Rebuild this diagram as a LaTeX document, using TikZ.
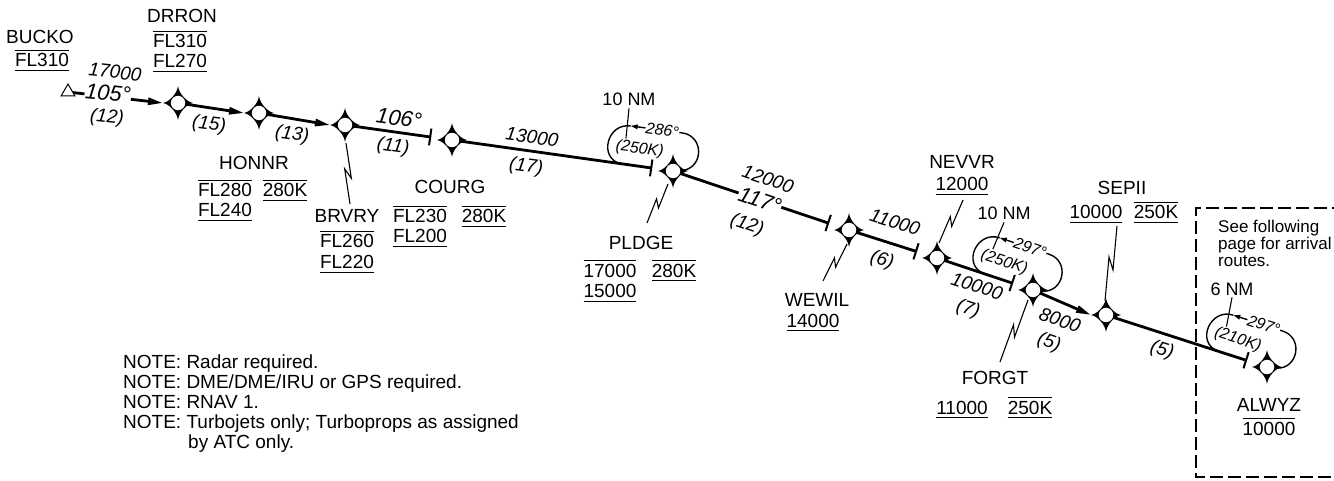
\documentclass[tikz,border=0pt]{standalone}
\usepackage{fontspec}
\setmainfont{Liberation Sans}
\usetikzlibrary{calc,arrows.meta,shapes.geometric}
\newcommand\OvL[1]{\vbox{\hrule height 1.3pt\kern 2.4pt\hbox{#1}}}
\newcommand\UnL[1]{\vtop{\hbox{#1}\kern 2.8pt\hrule height 1.3pt}}
\newcommand\OuL[1]{\vtop{\vbox{\hrule height 1.3pt\kern 2.4pt\hbox{#1}}\kern 2.8pt\hrule height 1.3pt}}
\newcommand\zigz[2]{\draw[leader] (#1) -- ($(#1)!0.58!(#2)!3pt!90:(#2)$) -- ($(#1)!0.42!(#2)!3pt!-90:(#2)$) -- (#2);}
\newcommand\tickat[2]{\draw[tickm] ($(#1)!8.5pt!90:(#2)$) -- ($(#1)!8.5pt!-90:(#2)$);}
\newcommand\holdp[5]{%
  \begin{scope}[shift={(#1)}, rotate=#2]
    \draw[holdl] (10,-2) .. controls (30,-8) and (26,-39) .. (4,-39);
    \draw[holdl,-{Triangle[length=7pt,width=4.5pt]}] (4,-39) -- (-48,-39);
    \draw[holdl] (-48,-39) .. controls (-72,-39) and (-76,-2) .. (-52,0);
    \coordinate (#5) at (-51,-26);
    \node[hl, fill=white, rotate=#2] at (-16,-39) {#3};
    \node[hl, rotate=#2] at (-36,-17) {#4};
  \end{scope}}
\begin{document}
\begin{tikzpicture}[x=1pt,y=-1pt,
  route/.style={line width=2.8pt},
  arr/.style={-{Triangle[length=15pt,width=7pt]}},
  tickm/.style={line width=2pt},
  holdl/.style={line width=1.4pt},
  leader/.style={line width=1.1pt},
  lbl/.style={font=\fontsize{19}{21}\selectfont, inner sep=0pt, anchor=base},
  rl/.style={font=\fontsize{19}{21}\selectfont\itshape, inner sep=0pt},
  hdg/.style={font=\fontsize{22}{24}\selectfont\itshape, inner sep=0.5pt},
  hl/.style={font=\fontsize{16}{18}\selectfont\itshape, inner sep=0.5pt},
  nm/.style={font=\fontsize{18}{20}\selectfont, inner sep=0pt, anchor=base},
  note/.style={font=\fontsize{19}{21}\selectfont, inner sep=0pt, anchor=base west},
  boxt/.style={font=\fontsize{17}{19}\selectfont, inner sep=0pt, anchor=base west},
  dbox/.style={line width=1.1pt, dash pattern=on 13pt off 5pt},
  wpstar/.pic={\fill (0,-17) .. controls (1,-9) and (9,-1) .. (15,0) .. controls (9,1) and (1,9) .. (0,17) .. controls (-1,9) and (-9,1) .. (-15,0) .. controls (-9,-1) and (-1,-9) .. (0,-17) -- cycle; \fill[white] (0,0) circle[radius=7.2];}
]
\useasboundingbox (0,0) rectangle (1334,481);
% fixes
\coordinate (bucko) at (68,92);
\coordinate (drron) at (178,103);
\coordinate (honnr) at (259,113);
\coordinate (brvry) at (345,125);
\coordinate (courg) at (452,140);
\coordinate (pldge) at (673,171);
\coordinate (wewil) at (849,230);
\coordinate (nevvr) at (937,258);
\coordinate (forgt) at (1033,290);
\coordinate (sepii) at (1106,315);
\coordinate (alwyz) at (1267,367);
% dashed box
\draw[dbox] (1345,208) -- (1196,208) -- (1196,477) -- (1345,477);
% holds
\holdp{pldge}{-7.7}{286°}{(250K)}{ldp}
\holdp{forgt}{-18.4}{297°}{(250K)}{ldf}
\holdp{alwyz}{-17.9}{297°}{(210K)}{lda}
% route
\draw[route,arr] (bucko) -- ($(drron)+(-15,0)$);
\draw[route,arr] (drron) -- ($(honnr)+(-15,0)$);
\draw[route,arr] (honnr) -- ($(brvry)+(-15,0)$);
\coordinate (t1) at ($(courg)!22pt!(brvry)$);
\draw[route] (brvry) -- (t1); \tickat{t1}{courg}
\coordinate (t2) at ($(pldge)!22pt!(courg)$);
\draw[route] (courg) -- (t2); \tickat{t2}{pldge}
\coordinate (t3) at ($(wewil)!22pt!(pldge)$);
\draw[route] (pldge) -- (t3); \tickat{t3}{wewil}
\coordinate (t4) at ($(nevvr)!22pt!(wewil)$);
\draw[route] (wewil) -- (t4); \tickat{t4}{nevvr}
\coordinate (t5) at ($(forgt)!22pt!(nevvr)$);
\draw[route] (nevvr) -- (t5); \tickat{t5}{forgt}
\draw[route,arr] (forgt) -- ($(sepii)+(-15,0)$);
\coordinate (t6) at ($(alwyz)!22pt!(sepii)$);
\draw[route] (sepii) -- (t6); \tickat{t6}{alwyz}
% leaders
\coordinate (la1) at (346,143); \coordinate (lb1) at (350,204);
\coordinate (la2) at (668,184); \coordinate (lb2) at (647,223);
\coordinate (la3) at (847,244); \coordinate (lb3) at (823,281);
\coordinate (la4) at (939,243); \coordinate (lb4) at (963,200);
\coordinate (la5) at (1028,300); \coordinate (lb5) at (1000,362);
\coordinate (la6) at (1105,301); \coordinate (lb6) at (1117,226);
\zigz{la1}{lb1}
\zigz{la2}{lb2}
\zigz{la3}{lb3}
\zigz{la4}{lb4}
\zigz{la5}{lb5}
\zigz{la6}{lb6}
% symbols
\foreach \w in {drron,honnr,brvry,courg,pldge,wewil,nevvr,forgt,sepii,alwyz}
  \pic at (\w) {wpstar};
\node[draw, fill=white, regular polygon, regular polygon sides=3, minimum size=16pt, inner sep=0pt, line width=1pt] (bucko-sym) at (bucko) {};
% hold distance labels
\node[nm] (nm1) at (629,106) {10 NM};
\node[nm] (nm2) at (1004,220) {10 NM};
\node[nm] (nm3) at (1232,295) {6 NM};
\draw[leader] ([yshift=-2pt]nm1.south) -- (ldp);
\draw[leader] ([yshift=-2pt]nm2.south) -- (ldf);
\draw[leader] ([yshift=-2pt]nm3.south) -- (lda);
% route labels
\node[rl, rotate=-6] (r1a) at (115,72) {17000};
\node[hdg, rotate=-6, fill=white] (r1h) at (108,93) {105°};
\node[rl, rotate=-6] (r1d) at (107,118) {(12)};
\node[rl, rotate=-7] (r2d) at (209,125) {(15)};
\node[rl, rotate=-8] (r3d) at (292,135) {(13)};
\node[hdg, rotate=-8] (r4h) at (399,118) {106°};
\node[rl, rotate=-8] (r4d) at (393,147) {(11)};
\node[rl, rotate=-8] (r5a) at (532,137) {13000};
\node[rl, rotate=-8] (r5d) at (526,167) {(17)};
\node[rl, rotate=-19] (r6a) at (768,179) {12000};
\node[hdg, rotate=-19, fill=white] (r6h) at (760,200) {117°};
\node[rl, rotate=-19] (r6d) at (747,225) {(12)};
\node[rl, rotate=-18] (r7a) at (895,222) {11000};
\node[rl, rotate=-18] (r7d) at (882,260) {(6)};
\node[rl, rotate=-18] (r8a) at (977,286) {10000};
\node[rl, rotate=-18] (r8d) at (968,309) {(7)};
\node[rl, rotate=-19] (r9a) at (1060,320) {8000};
\node[rl, rotate=-19] (r9d) at (1049,343) {(5)};
\node[rl, rotate=-18] (r10d) at (1162,350) {(5)};
% fix labels
\node[lbl] (bucko-n) at (40,44) {BUCKO};
\node[lbl] (bucko-a) at (42,67) {\OuL{FL310}};
\node[lbl] (drron-n) at (182,23) {DRRON};
\node[lbl] (drron-a) at (180,48) {\OvL{FL310}};
\node[lbl] (drron-b) at (180,68) {\UnL{FL270}};
\node[lbl] (honnr-n) at (254,170) {HONNR};
\node[lbl] (honnr-a) at (225,197) {\OvL{FL280}};
\node[lbl] (honnr-s) at (285,197) {\OuL{280K}};
\node[lbl] (honnr-b) at (225,217) {\UnL{FL240}};
\node[lbl] (brvry-n) at (347,223) {BRVRY};
\node[lbl] (brvry-a) at (347,248) {\OvL{FL260}};
\node[lbl] (brvry-b) at (347,269) {\UnL{FL220}};
\node[lbl] (courg-n) at (450,194) {COURG};
\node[lbl] (courg-a) at (420,223) {\OvL{FL230}};
\node[lbl] (courg-s) at (484,223) {\OuL{280K}};
\node[lbl] (courg-b) at (420,243) {\UnL{FL200}};
\node[lbl] (pldge-n) at (641,250) {PLDGE};
\node[lbl] (pldge-a) at (610,277) {\OvL{17000}};
\node[lbl] (pldge-s) at (674,277) {\OuL{280K}};
\node[lbl] (pldge-b) at (610,298) {\UnL{15000}};
\node[lbl] (wewil-n) at (817,306) {WEWIL};
\node[lbl] (wewil-a) at (813,327) {\UnL{14000}};
\node[lbl] (nevvr-n) at (962,169) {NEVVR};
\node[lbl] (nevvr-a) at (962,191) {\UnL{12000}};
\node[lbl] (forgt-n) at (995,384) {FORGT};
\node[lbl] (forgt-a) at (962,414) {\UnL{11000}};
\node[lbl] (forgt-s) at (1030,414) {\OuL{250K}};
\node[lbl] (sepii-n) at (1122,195) {SEPII};
\node[lbl] (sepii-a) at (1096,219) {\UnL{10000}};
\node[lbl] (sepii-s) at (1156,219) {\OuL{250K}};
\node[lbl] (alwyz-n) at (1269,411) {ALWYZ};
\node[lbl] (alwyz-a) at (1269,435) {\OvL{10000}};
% box text
\node[boxt] (bx1) at (1218,233) {See following};
\node[boxt] (bx2) at (1218,250) {page for arrival};
\node[boxt] (bx3) at (1218,267) {routes.};
% notes
\node[note] (n1) at (123,368) {NOTE: Radar required.};
\node[note] (n2) at (123,388) {NOTE: DME/DME/IRU or GPS required.};
\node[note] (n3) at (123,408) {NOTE: RNAV 1.};
\node[note] (n4) at (123,428) {NOTE: Turbojets only; Turboprops as assigned};
\node[note] (n5) at (188,448) {by ATC only.};
\end{tikzpicture}
\end{document}
